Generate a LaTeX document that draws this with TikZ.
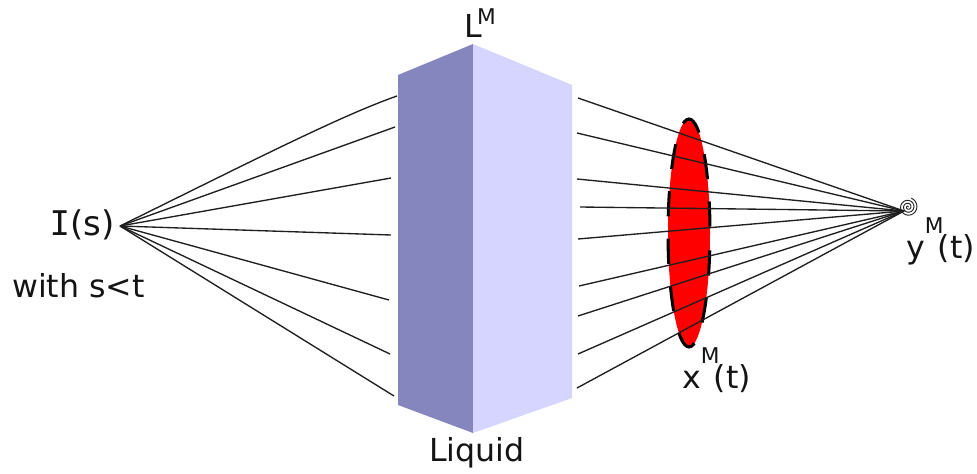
\documentclass[tikz,border=0pt]{standalone}
\usepackage{fontspec}
\setmainfont{DejaVu Sans}
\newfontfamily\serifI{DejaVu Sans Mono}
\usetikzlibrary{shapes.geometric}
\definecolor{liqdark}{HTML}{8686BE}
\definecolor{liqlight}{HTML}{D5D5FF}
\newcommand{\supM}[1][.78em]{\raisebox{#1}{\fontsize{18.5pt}{18.5pt}\selectfont M}\kern-5pt}

\begin{document}
\begin{tikzpicture}[
    x=0.03cm, y=-0.03cm,
    tag/.style={font=\fontsize{27pt}{30pt}\selectfont, text=black!92, inner sep=0pt},
    ray/.style={line width=1.15pt, black!88},
]
\useasboundingbox (0,0) rectangle (977,473);

% ====== Liquid ======
\coordinate (ltop) at (398,75);
\coordinate (mtop) at (473,44);
\coordinate (rtop) at (572,85);
\coordinate (rbot) at (572,398);
\coordinate (mbot) at (473,433);
\coordinate (lbot) at (398,405);

\fill[liqdark] (ltop) -- (mtop) -- (mbot) -- (lbot) -- cycle;
\fill[liqlight] (mtop) -- (rtop) -- (rbot) -- (mbot) -- cycle;

% ====== Lens ======
\node[ellipse, fill=red, draw=black, line width=2.6pt, inner sep=0pt,
    minimum width=1.26cm, minimum height=6.84cm,
    dash pattern=on 21.5pt off 19pt, dash phase=35pt] (lens) at (689,233) {};

% ====== Labels ======
\node[tag, font=\fontsize{29pt}{30pt}\selectfont] (source) at (82,225) {{\serifI I}(s)};
\node[tag, anchor=west] (cond) at (12,286) {with s<t};
\node[tag, anchor=base west] (liqtop) at (464,37) {L\kern-4pt\supM[.41em]};
\node[tag] (liquid) at (477,453) {Liquid};
\node[tag, anchor=base west] (lenstag) at (682,388) {x\supM(t)};
\node[tag, anchor=base west] (focustag) at (906,258) {y\supM(t)};

% ====== Rays in ======
\coordinate (src) at (120,226);
\coordinate (ia) at (397,96);
\coordinate (ib) at (395,127);
\coordinate (ic) at (391,178);
\coordinate (id) at (391,235);
\coordinate (ie) at (389,300);
\coordinate (if) at (390,354);
\coordinate (ig) at (394,396);

\draw[ray] (src) .. controls (250,162) and (340,116) .. (ia);
\draw[ray] (src) -- (ib);
\draw[ray] (src) -- (ic);
\draw[ray] (src) -- (id);
\draw[ray] (src) -- (ie);
\draw[ray] (src) -- (if);
\draw[ray] (src) -- (ig);

% ====== Rays out ======
\coordinate (focus) at (904,211);
\coordinate (oa) at (578,98);
\coordinate (ob) at (577,133);
\coordinate (oc) at (577,179);
\coordinate (od) at (580,207);
\coordinate (oe) at (578,239);
\coordinate (of) at (579,286);
\coordinate (og) at (578,316);
\coordinate (oh) at (578,354);
\coordinate (oi) at (577,388);

\draw[ray] (focus) -- (oa);
\draw[ray] (focus) -- (ob);
\draw[ray] (focus) -- (oc);
\draw[ray] (focus) -- (od);
\draw[ray] (focus) -- (oe);
\draw[ray] (focus) -- (of);
\draw[ray] (focus) -- (og);
\draw[ray] (focus) -- (oh);
\draw[ray] (focus) -- (oi);

% ====== Spiral ======
\draw[line width=0.8pt, black!85, shift={(908,207)}, domain=0:1150, samples=120, smooth]
    plot ({\x}:{0.0082*\x*0.03cm});

\end{tikzpicture}
\end{document}
